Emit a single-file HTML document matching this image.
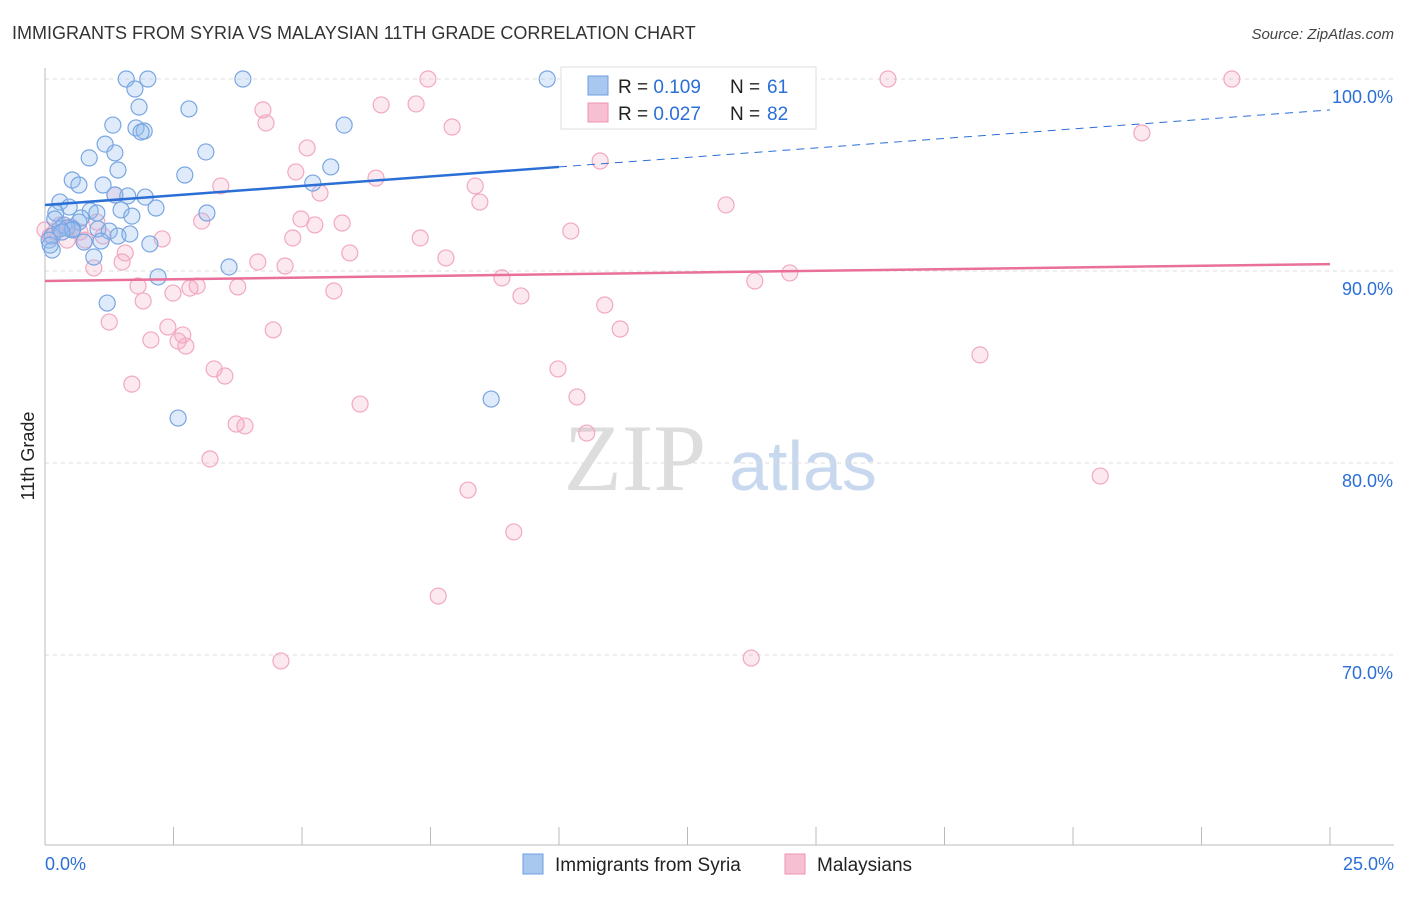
<!DOCTYPE html>
<html><head><meta charset="utf-8"><style>
body{margin:0;background:#fff;font-family:"Liberation Sans",sans-serif;}
</style></head><body>
<svg id="chart" width="1406" height="892" xmlns="http://www.w3.org/2000/svg" font-family="Liberation Sans, sans-serif">
<text x="12" y="39" font-size="18" fill="#333">IMMIGRANTS FROM SYRIA VS MALAYSIAN 11TH GRADE CORRELATION CHART</text>
<text x="1394" y="39" font-size="15" fill="#444" font-style="italic" text-anchor="end">Source: ZipAtlas.com</text>
<text transform="translate(34,456) rotate(-90)" font-size="18" fill="#222" text-anchor="middle">11th Grade</text>
<g><text x="635" y="490" font-size="95" fill="#ddd" font-family="Liberation Serif, serif" text-anchor="middle">ZIP</text><text x="803" y="490" font-size="70" fill="#c8d8ee" text-anchor="middle">atlas</text></g>
<g id="grid"></g><g id="axes"></g><g id="pts"></g><g id="lines"></g>
<g>
<rect x="561" y="67" width="255" height="62" fill="#fff" stroke="#ddd"/>
<rect x="588" y="76" width="20" height="19" fill="#a9c8f0" stroke="#6d9ee0"/>
<text x="618" y="93" font-size="19" fill="#222">R = <tspan fill="#2b6fd6">0.109</tspan></text>
<text x="730" y="93" font-size="19" fill="#222">N =</text>
<text x="767" y="93" font-size="19" fill="#2b6fd6">61</text>
<rect x="588" y="103" width="20" height="19" fill="#f7c0d2" stroke="#ef92b2"/>
<text x="618" y="120" font-size="19" fill="#222">R = <tspan fill="#2b6fd6">0.027</tspan></text>
<text x="730" y="120" font-size="19" fill="#222">N =</text>
<text x="767" y="120" font-size="19" fill="#2b6fd6">82</text>
</g>
<g>
<rect x="523" y="854" width="20" height="20" fill="#a9c8f0" stroke="#6d9ee0"/>
<text x="555" y="871" font-size="19" fill="#222">Immigrants from Syria</text>
<rect x="785" y="854" width="20" height="20" fill="#f7c0d2" stroke="#ef92b2"/>
<text x="817" y="871" font-size="19" fill="#222">Malaysians</text>
</g>
</svg>
<script>
const syriaX=[1.58,2.00,3.85,9.77,1.75,1.83,2.80,1.32,1.77,1.93,1.87,5.82,1.17,0.86,1.36,3.13,1.42,5.56,0.53,0.66,1.13,2.72,5.21,1.36,1.61,1.95,0.29,0.47,1.48,2.16,3.15,0.88,1.01,0.21,0.70,1.69,0.66,0.37,0.43,0.54,1.03,1.25,1.42,1.65,0.14,1.09,0.76,2.04,0.08,0.14,0.95,3.58,2.20,1.21,2.59,8.68,0.29,0.53,0.19,0.33,0.10];
const syriaY=[100,100,100,100,99.48,98.54,98.44,97.60,97.45,97.29,97.24,97.60,96.61,95.89,96.15,96.20,95.26,95.42,94.74,94.48,94.48,95.00,94.58,93.96,93.91,93.85,93.59,93.33,93.18,93.28,93.02,93.13,93.02,93.02,92.76,92.86,92.55,92.40,92.24,92.19,92.19,92.08,91.82,91.93,91.82,91.56,91.51,91.41,91.61,91.09,90.73,90.21,89.69,88.33,82.34,83.33,92.19,92.14,92.71,92.03,91.35];
const malayX=[7.45,16.40,23.09,11.52,6.54,7.22,4.24,4.30,7.92,21.34,5.10,10.80,4.88,3.42,6.44,8.37,5.35,8.46,13.25,1.36,4.98,5.78,3.05,5.25,10.23,7.30,4.82,2.28,0.68,1.13,0.19,0.51,7.80,5.93,1.56,4.14,4.67,1.50,0.95,8.89,13.81,14.49,3.75,2.96,2.82,2.49,1.81,5.62,9.26,1.91,10.89,1.25,2.39,2.68,4.44,11.19,2.06,2.59,2.74,18.19,9.98,3.29,3.50,1.69,10.35,6.13,3.72,3.89,10.54,3.21,20.53,8.23,9.12,7.65,4.59,13.74,0.10,0.78,1.01,0.29,0.43,0.00];
const malayY=[100,100,100,99.90,98.65,98.70,98.39,97.71,97.50,97.19,96.41,95.73,95.16,94.43,94.84,94.43,94.06,93.59,93.44,93.96,92.71,92.50,92.60,92.40,92.08,91.72,91.72,91.67,92.03,91.82,92.03,92.29,90.68,90.94,90.94,90.47,90.26,90.47,90.16,89.64,89.48,89.90,89.17,89.22,89.11,88.85,89.22,88.96,88.70,88.44,88.23,87.34,87.08,86.67,86.93,86.98,86.41,86.35,86.09,85.63,84.90,84.90,84.53,84.11,83.44,83.07,82.03,81.93,81.56,80.21,79.32,78.59,76.41,73.07,69.69,69.84,91.82,91.61,92.55,92.40,91.61,92.14];
const yTicks=[100,90,80,70];
const yTickLabels=["100.0%","90.0%","80.0%","70.0%"];
const xTicks=[0,2.5,5,7.5,10,12.5,15,17.5,20,22.5,25];
const syriaTrend=[93.44,98.39];
const malayTrend=[89.48,90.36];
const NS="http://www.w3.org/2000/svg";
const sx=v=>45+v*51.4, sy=v=>79+(100-v)*19.2;
function mk(t,a,p){const e=document.createElementNS(NS,t);for(const k in a)e.setAttribute(k,a[k]);p.appendChild(e);return e;}
const grid=document.getElementById('grid'),axes=document.getElementById('axes'),pts=document.getElementById('pts'),lines=document.getElementById('lines');
yTicks.forEach((v,i)=>{
 const l=mk('line',{x1:45,x2:1394,y1:sy(v),y2:sy(v),stroke:'#ddd','stroke-dasharray':'4,4'},grid);
 
 
 const t=mk('text',{x:1393,y:sy(v)+24,'font-size':18,fill:'#2b6fd6','text-anchor':'end'},axes);
 t.textContent=yTickLabels[i];
 
 
});
const ya=mk('line',{x1:45,x2:45,y1:68,y2:845,stroke:'#bbb'},axes);


const xa=mk('line',{x1:45,x2:1394,y1:845,y2:845,stroke:'#bbb'},axes);


xTicks.forEach(v=>{
 const l=mk('line',{x1:sx(v),x2:sx(v),y1:827,y2:845,stroke:'#bbb'},axes);
 
 
});
const xl0=mk('text',{x:45,y:870,'font-size':18,fill:'#2b6fd6'},axes);xl0.textContent=xTicks[0].toFixed(1)+'%';


const xl1=mk('text',{x:1394,y:870,'font-size':18,fill:'#2b6fd6','text-anchor':'end'},axes);xl1.textContent=xTicks[xTicks.length-1].toFixed(1)+'%';


malayX.forEach((x,i)=>{
 const c=mk('circle',{cx:sx(x),cy:sy(malayY[i]),r:8,fill:'rgba(245,165,192,0.25)',stroke:'#f2a8c0','stroke-width':1.2},pts);
 
 
});
syriaX.forEach((x,i)=>{
 const c=mk('circle',{cx:sx(x),cy:sy(syriaY[i]),r:8,fill:'rgba(150,188,238,0.3)',stroke:'#78a6e2','stroke-width':1.2},pts);
 
 
});
const bAt=v=>syriaTrend[0]+(syriaTrend[1]-syriaTrend[0])*v/25;
const b1=mk('line',{x1:sx(0),y1:sy(bAt(0)),x2:sx(10),y2:sy(bAt(10)),stroke:'#2b6fd6','stroke-width':2.5},lines);


const b2=mk('line',{x1:sx(10),y1:sy(bAt(10)),x2:sx(25),y2:sy(bAt(25)),stroke:'#2b6fd6','stroke-width':1,'stroke-dasharray':'8,6'},lines);


const p1=mk('line',{x1:sx(0),y1:sy(malayTrend[0]),x2:sx(25),y2:sy(malayTrend[1]),stroke:'#e8709a','stroke-width':2.5},lines);


</script>
</body></html>
